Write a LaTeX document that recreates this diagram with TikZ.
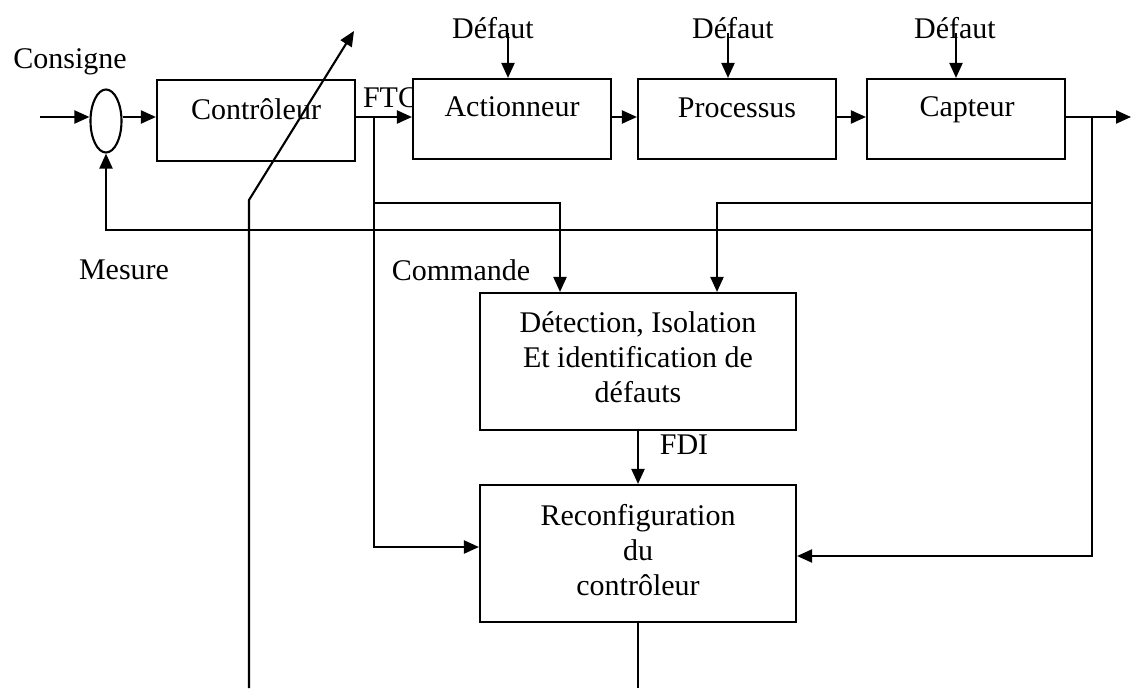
\documentclass[tikz,border=0pt]{standalone}
\usepackage{fontspec}
\setmainfont{Liberation Serif}
\usetikzlibrary{arrows.meta,shapes.geometric}
\begin{document}
\begin{tikzpicture}[x=1pt,y=-1pt,line width=2.1pt,
  box/.style={draw,line width=2.1pt,fill=white,inner sep=0pt},
  lbl/.style={font=\fontsize{30}{35}\selectfont,inner sep=0pt,align=center},
  >={Triangle[length=15pt,width=13pt]}]
\useasboundingbox (0,0) rectangle (1131,688);

% label partly covered by the actuator block
\node[lbl,anchor=west] (ftc) at (362,98) {FTC};

% main chain blocks
\node[box,ellipse,minimum width=31pt,minimum height=63pt] (sum) at (106,121) {};
\node[box,minimum width=198pt,minimum height=81pt] (ctrl) at (256,120.5) {};
\node[box,minimum width=198pt,minimum height=80pt] (act) at (512,119) {};
\node[box,minimum width=198pt,minimum height=80pt] (proc) at (737,119) {};
\node[box,minimum width=198pt,minimum height=80pt] (capt) at (966,119) {};
\node[box,minimum width=316pt,minimum height=137pt] (det) at (638,361.5) {};
\node[box,minimum width=316pt,minimum height=137pt] (rec) at (638,553.5) {};

% block texts
\node[lbl] (tctrl) at (256,109) {Contrôleur};
\node[lbl] (tact) at (512,107) {Actionneur};
\node[lbl] (tproc) at (737,108) {Processus};
\node[lbl] (tcapt) at (967,110) {Capteur};
\node[lbl] (tdet) at (638,357.5) {Détection, Isolation\\Et identification de\\défauts};
\node[lbl] (trec) at (638,550) {Reconfiguration\\du\\contrôleur};

% free labels
\node[lbl] (cons) at (70,62) {Consigne};
\node[lbl] (mes) at (124,270) {Mesure};
\node[lbl] (cmd) at (461,270) {Commande};
\node[lbl] (fdi) at (684,445) {FDI};
\node[lbl] (def1) at (493,28) {Défaut};
\node[lbl] (def2) at (733,28) {Défaut};
\node[lbl] (def3) at (955,28) {Défaut};

% helper points
\coordinate (in) at (40,117);
\coordinate (brL) at (374,117);
\coordinate (brR) at (1092,117);
\coordinate (out) at (1131,117);
\coordinate (fb) at (106,230);
\coordinate (dL) at (560,203);
\coordinate (dR) at (717,203);
\coordinate (d1) at (508,33);
\coordinate (d2) at (728,33);
\coordinate (d3) at (956,33);
\coordinate (adjB) at (249,688);
\coordinate (adjK) at (249,200);
\coordinate (adjT) at (354,31);
\coordinate (bot) at (638,688);

% forward path
\draw[->] (in) -- (in -| sum.west);
\draw[->] (in -| sum.east) -- (in -| ctrl.west);
\draw[->] (in -| ctrl.east) -- (in -| act.west);
\draw[->] (in -| act.east) -- (in -| proc.west);
\draw[->] (in -| proc.east) -- (in -| capt.west);
\draw[->] (in -| capt.east) -- (out);

% faults
\draw[->] (d1) -- (d1 |- act.north);
\draw[->] (d2) -- (d2 |- proc.north);
\draw[->] (d3) -- (d3 |- capt.north);

% measurement feedback
\draw[->] (brR) |- (fb) -- (sum.south);

% signals to the diagnosis block
\draw[->] (brL) |- (dL) -- (dL |- det.north);
\draw[->] (brR) |- (dR) -- (dR |- det.north);

% diagnosis to reconfiguration
\draw[->] (det.south) -- (rec.north);
\draw[->] (brL) |- ([yshift=6.5pt]rec.west);
\draw[->] (brR) |- ([yshift=-2.5pt]rec.east);

% reconfiguration acting on the controller
\draw (rec.south) -- (bot);
\draw[->] (adjB) -- (adjK) -- (adjT);
\end{tikzpicture}
\end{document}
